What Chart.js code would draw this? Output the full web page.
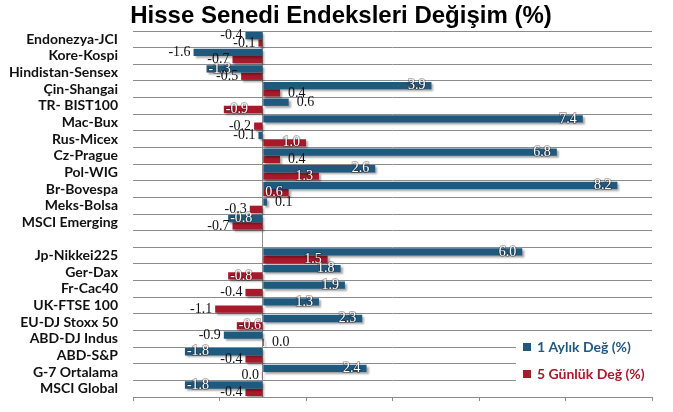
<!DOCTYPE html>
<html>
<head>
<meta charset="utf-8">
<script src="https://cdn.jsdelivr.net/npm/chart.js@4/dist/chart.umd.min.js"></script>
<style>
  html, body { margin: 0; padding: 0; background: #ffffff; }
  #wrap { width: 673px; height: 412px; position: relative; }
</style>
</head>
<body>
<div id="wrap"><canvas id="c" width="673" height="412"></canvas></div>
<script>
// ---- data ----
const chartTitle = 'Hisse Senedi Endeksleri Değişim (%)';
const categories = [
  'Endonezya-JCI', 'Kore-Kospi', 'Hindistan-Sensex', 'Çin-Shangai', 'TR- BIST100',
  'Mac-Bux', 'Rus-Micex', 'Cz-Prague', 'Pol-WIG', 'Br-Bovespa', 'Meks-Bolsa',
  'MSCI Emerging', '', 'Jp-Nikkei225', 'Ger-Dax', 'Fr-Cac40', 'UK-FTSE 100',
  'EU-DJ Stoxx 50', 'ABD-DJ Indus', 'ABD-S&P', 'G-7 Ortalama', 'MSCI Global'
];
const seriesNames = ['1 Aylık Değ (%)', '5 Günlük Değ (%)'];
const monthly = [-0.4, -1.6, -1.3, 3.9, 0.6, 7.4, -0.1, 6.8, 2.6, 8.2, 0.1, -0.8, null,
  6.0, 1.8, 1.9, 1.3, 2.3, -0.9, -1.8, 2.4, -1.8];
const fiveDay = [-0.1, -0.7, -0.5, 0.4, -0.9, -0.2, 1.0, 0.4, 1.3, 0.6, -0.3, -0.7, null,
  1.5, -0.8, -0.4, -1.1, -0.6, 0.03, -0.4, -0.02, -0.4];
const xMin = -3, xMax = 9;

// label placement (inside end = true, outside end = false)
const monthlyInside = [false, false, true, true, false, true, false, true, true, true, false, true, false,
  true, true, true, true, true, false, true, true, true];
const fiveDayInside = [false, false, false, false, true, false, true, false, true, true, false, false, false,
  true, true, false, false, true, false, false, false, false];

const BLUE = '#1f5a7e';
const RED = '#a8192b';
const GRID = '#8c8c8c';

const fmt = v => (Math.abs(v) < 0.05 ? '0.0' : v.toFixed(1));

const drawPlugin = {
  id: 'customDraw',
  beforeDatasetsDraw(chart) {
    const ctx = chart.ctx;
    const a = chart.chartArea;
    // white box behind legend (covers grid lines)
    ctx.save();
    ctx.fillStyle = '#ffffff';
    ctx.fillRect(a.right - 136, a.bottom - 62, 137, 58);
    ctx.restore();
    ctx.save();
    ctx.shadowColor = 'rgba(0,0,0,0.35)';
    ctx.shadowOffsetX = 2;
    ctx.shadowOffsetY = 2;
    ctx.shadowBlur = 2;
  },
  afterDatasetsDraw(chart) {
    const ctx = chart.ctx;
    ctx.restore();
    ctx.save();
    ctx.font = '14px "Liberation Serif"';
    ctx.textBaseline = 'middle';
    const insides = [monthlyInside, fiveDayInside];
    chart.data.datasets.forEach((ds, di) => {
      const meta = chart.getDatasetMeta(di);
      meta.data.forEach((bar, i) => {
        const v = ds.data[i];
        if (v === null || v === undefined) return;
        const txt = fmt(v);
        const neg = v < 0;
        const inside = insides[di][i];
        let tx;
        if (inside) {
          ctx.textAlign = neg ? 'left' : 'right';
          tx = neg ? bar.x + 2 : bar.x - 6;
          ctx.lineWidth = 2;
          ctx.strokeStyle = 'rgba(40,20,20,0.35)';
          ctx.strokeText(txt, tx, bar.y);
          ctx.fillStyle = '#ffffff';
        } else {
          ctx.fillStyle = '#111111';
          ctx.textAlign = neg ? 'right' : 'left';
          tx = neg ? bar.x - 3 : bar.x + 8;
        }
        ctx.fillText(txt, tx, bar.y);
      });
    });
    ctx.restore();
  },
  afterDraw(chart) {
    const ctx = chart.ctx;
    const a = chart.chartArea;
    ctx.save();
    // title
    ctx.font = 'bold 24px "Liberation Sans", Arial, sans-serif';
    ctx.fillStyle = '#000000';
    ctx.textAlign = 'center';
    ctx.textBaseline = 'alphabetic';
    ctx.fillText(chartTitle, 341, 23);
    // legend inside plot area, bottom right
    ctx.font = 'bold 14px Lato';
    ctx.textBaseline = 'middle';
    ctx.textAlign = 'left';
    const cols = [BLUE, RED];
    const ys = [a.bottom - 50, a.bottom - 23];
    chart.data.datasets.forEach((ds, di) => {
      const y = ys[di];
      ctx.fillStyle = cols[di];
      ctx.fillRect(a.right - 129, y - 4, 8, 8);
      ctx.fillText(ds.label, a.right - 115, y);
    });
    ctx.restore();
  }
};

new Chart(document.getElementById('c'), {
  type: 'bar',
  data: {
    labels: categories,
    datasets: [
      { label: seriesNames[0], data: monthly, backgroundColor: BLUE, borderWidth: 0 },
      { label: seriesNames[1], data: fiveDay, backgroundColor: RED, borderWidth: 0 }
    ]
  },
  options: {
    indexAxis: 'y',
    responsive: false,
    animation: false,
    devicePixelRatio: 1,
    categoryPercentage: 0.88,
    barPercentage: 1.0,
    layout: { padding: { top: 31, right: 21, bottom: 11, left: 0 } },
    plugins: {
      legend: { display: false },
      tooltip: { enabled: false },
      title: { display: false }
    },
    scales: {
      x: {
        min: xMin, max: xMax,
        ticks: { display: false, stepSize: 1 },
        grid: {
          drawOnChartArea: true,
          drawTicks: true,
          tickLength: 4,
          color: c => (c.tick && c.tick.value === 0 ? GRID : 'rgba(0,0,0,0)'),
          tickColor: c => (c.tick && Math.abs(c.tick.value % 2) === 1 ? GRID : 'rgba(0,0,0,0)')
        },
        border: { display: true, color: GRID, width: 1 },
        afterFit: s => { s.height = 4; s.paddingLeft = 0; s.paddingRight = 0; }
      },
      y: {
        ticks: {
          color: '#111111',
          padding: 15,
          autoSkip: false,
          font: { family: 'Lato', size: 14, weight: 'bold' }
        },
        grid: { color: GRID, drawTicks: false, offset: true },
        border: { display: false },
        afterFit: s => { s.width = 133; s.paddingTop = 0; s.paddingBottom = 0; }
      }
    }
  },
  plugins: [drawPlugin]
});
</script>
</body>
</html>
